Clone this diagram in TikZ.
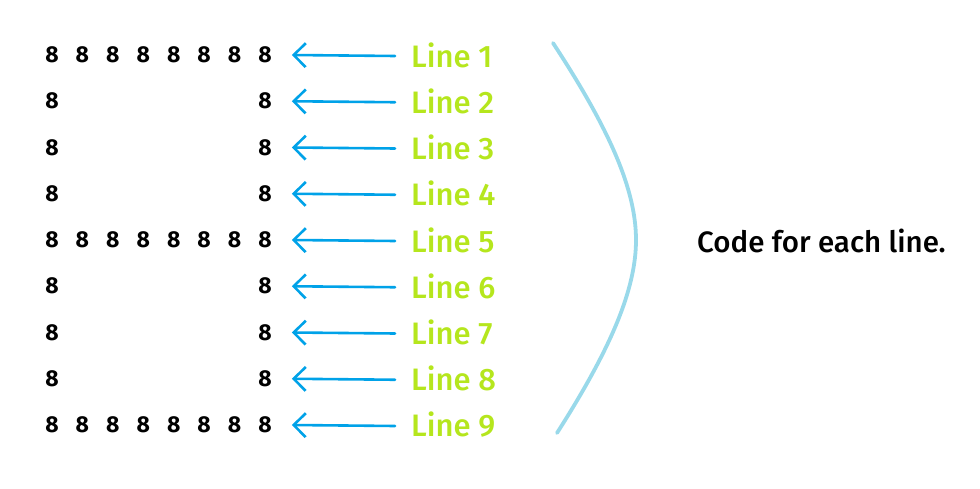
\documentclass[tikz,border=0pt]{standalone}
\usepackage{fontspec}
\setmainfont{Fira Sans}
\newfontfamily\labfont{Fira Sans Medium}
\usetikzlibrary{arrows.meta}
\definecolor{arrblue}{HTML}{00A2E8}
\definecolor{lgreen}{HTML}{B5E61D}
\definecolor{curveblue}{HTML}{99D9EA}
\begin{document}
\begin{tikzpicture}[x=1pt,y=-1pt,
  digit/.style={font=\fontsize{23}{23}\selectfont\bfseries, inner sep=0pt, anchor=center},
  lab/.style={font=\fontsize{31}{31}\labfont, text=lgreen, anchor=west, inner sep=0pt},
  arr/.style={draw=arrblue, line width=2.6pt, line cap=round, line join=round,
    -{Straight Barb[length=12pt,width=24pt,line width=2.6pt]}},
  note/.style={font=\fontsize{29.5}{29.5}\labfont, anchor=west, inner sep=0pt}
]
\useasboundingbox (0,0) rectangle (980,489);
\foreach \r/\full in {1/1,2/0,3/0,4/0,5/1,6/0,7/0,8/0,9/1} {
  \pgfmathsetmacro\yy{55+(\r-1)*46.25}
  \ifnum\full=1
    \foreach \c in {1,...,8} {
      \node[digit] (d\r-\c) at ({52+(\c-1)*30.43},\yy) {8};
    }
  \else
    \node[digit] (d\r-1) at (52,\yy) {8};
    \node[digit] (d\r-8) at (265,\yy) {8};
  \fi
  \node[lab] (L\r) at (411,\yy) {Line \r};
  \draw[arr] ([xshift=-16pt,yshift=-1pt]L\r.west) -- ([xshift=20pt]d\r-8.east);
}
\draw[curveblue, line width=3.8pt, line cap=round]
  (553,43) .. controls (610,130) and (636,190) .. (636,240)
  .. controls (636,290) and (610,350) .. (557,433);
\node[note] (code) at (697,241) {Code for each line.};
\end{tikzpicture}
\end{document}
